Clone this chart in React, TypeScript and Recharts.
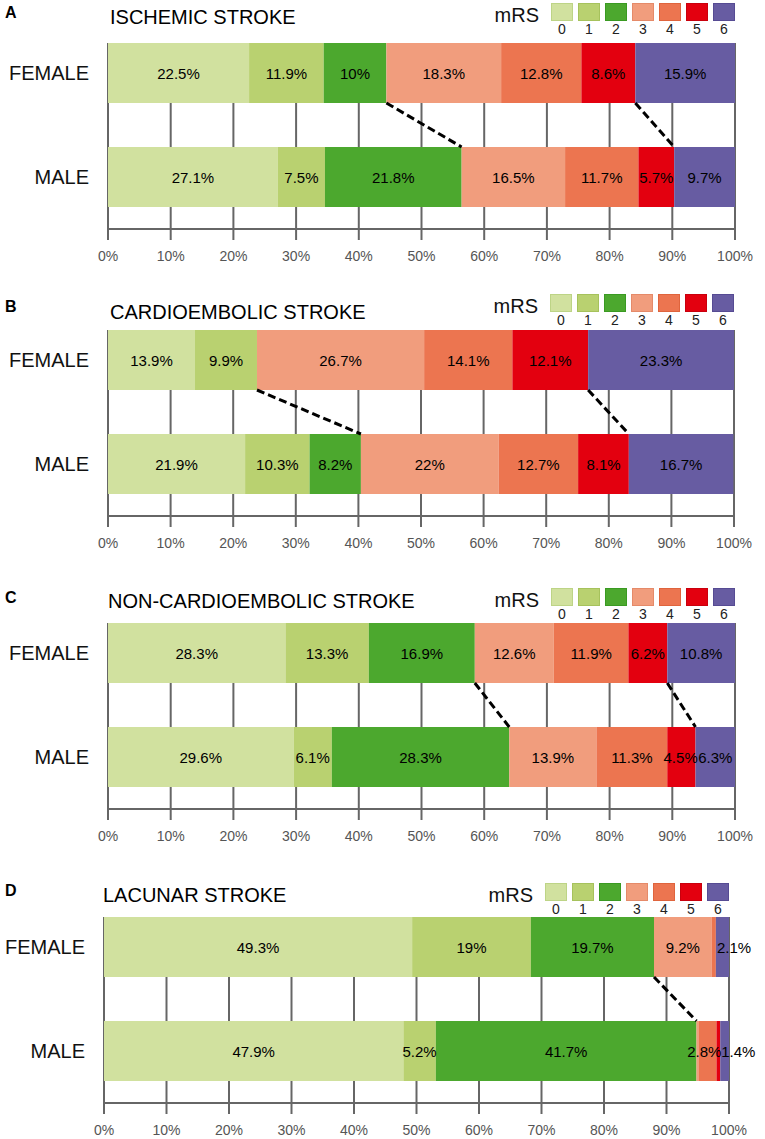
import React from 'react';
import { BarChart, Bar, XAxis, YAxis, CartesianGrid, ReferenceLine, LabelList } from 'recharts';

// ---------- data ----------
const MRS_LEVELS = ['0', '1', '2', '3', '4', '5', '6'];
const MRS_COLORS = ['#d1e19f', '#b9d170', '#4ca82e', '#f19d7d', '#ec7550', '#e3000f', '#675ca2'];
const MRS_BORDERS = ['#bdd486', '#a6c25c', '#3a9a22', '#e58a69', '#df643d', '#c9000d', '#564b93'];
const GROUPS = ['FEMALE', 'MALE'];
const X_TICKS = [0, 10, 20, 30, 40, 50, 60, 70, 80, 90, 100];

const ischemicFemale = [22.5, 11.9, 10, 18.3, 12.8, 8.6, 15.9];
const ischemicMale = [27.1, 7.5, 21.8, 16.5, 11.7, 5.7, 9.7];
const ischemicLinks = [2, 5];

const cardioFemale = [13.9, 9.9, 0, 26.7, 14.1, 12.1, 23.3];
const cardioMale = [21.9, 10.3, 8.2, 22, 12.7, 8.1, 16.7];
const cardioLinks = [2, 5];

const nonCardioFemale = [28.3, 13.3, 16.9, 12.6, 11.9, 6.2, 10.8];
const nonCardioMale = [29.6, 6.1, 28.3, 13.9, 11.3, 4.5, 6.3];
const nonCardioLinks = [2, 5];

const lacunarFemale = [49.3, 19, 19.7, 9.2, 0.7, 0, 2.1];
const lacunarMale = [47.9, 5.2, 41.7, 0.4, 2.8, 0.6, 1.4];
const lacunarLinks = [2];

const PANEL_LETTERS = ['A', 'B', 'C', 'D'];
const PANEL_TITLES = ['ISCHEMIC STROKE', 'CARDIOEMBOLIC STROKE', 'NON-CARDIOEMBOLIC STROKE', 'LACUNAR STROKE'];

// ---------- layout ----------
const FONT = '"Liberation Sans", Arial, Helvetica, sans-serif';
const BAR = 60;
const CHART_H = 268;
const MARGIN_TOP = 20;
const XAXIS_H = 40;
const GAP_TOP = 22; // distance from plot top to bar top
const LABEL_SIZE = 15;

type Layout = { T: number; x0: number; x1: number; letterCy: number; titleCy: number; titleX: number; legendTop: number };
const LAYOUTS: Layout[] = [
  { T: 42.7, x0: 108, x1: 735, letterCy: 12.8, titleCy: 16.6, titleX: 110, legendTop: 3 },
  { T: 330, x0: 108, x1: 734, letterCy: 306.5, titleCy: 311.7, titleX: 110, legendTop: 294 },
  { T: 623.3, x0: 108, x1: 735, letterCy: 597.5, titleCy: 600.8, titleX: 108, legendTop: 588 },
  { T: 917.3, x0: 104, x1: 729, letterCy: 890.7, titleCy: 895, titleX: 103, legendTop: 883 },
];

const cum = (arr: number[], idx: number) => arr.slice(0, idx + 1).reduce((a, b) => a + b, 0);

const gridLine = (p: any) => (
  <line
    key={p.key ?? `g-${p.index}`}
    x1={p.x1}
    x2={p.x2}
    y1={p.y1 + GAP_TOP}
    y2={p.y2}
    stroke="#666"
    strokeWidth={2}
  />
);

const dashShape = (p: any) => (
  <line
    x1={p.x1}
    y1={p.y1 + BAR / 2}
    x2={p.x2}
    y2={p.y2 - BAR / 2}
    stroke="#000"
    strokeWidth={3}
    strokeDasharray="8 4"
  />
);

const makeLabel = (levelIndex: number) => (p: any) => {
  const vb = p.viewBox ?? p;
  const x = Number(vb.x ?? p.x);
  const y = Number(vb.y ?? p.y);
  const w = Number(vb.width ?? p.width);
  const h = Number(vb.height ?? p.height);
  const v = Number(p.value);
  if (!(v >= 1) || !isFinite(x)) return null;
  const text = `${v}%`;
  const textW = text.length * LABEL_SIZE * 0.52;
  let tx = x + w / 2;
  let anchor: 'middle' | 'start' = 'middle';
  if (w < textW) {
    if (levelIndex === MRS_LEVELS.length - 1) {
      tx = x + 1;
      anchor = 'start';
    } else {
      tx = x + w / 2 - (textW - w) / 4;
    }
  }
  return (
    <text
      x={tx}
      y={y + h / 2}
      textAnchor={anchor}
      dominantBaseline="central"
      fill="#000"
      fontSize={LABEL_SIZE}
      fontFamily={FONT}
    >
      {text}
    </text>
  );
};

function Legend({ L }: { L: Layout }) {
  const pitch = 27;
  const sw = 22;
  const sh = 18;
  const left0 = L.x1 - sw - 6 * pitch;
  return (
    <>
      <div
        style={{
          position: 'absolute',
          right: 765 - (left0 - 12),
          top: L.legendTop + sh / 2 + 2.5 - 10,
          fontSize: 20,
          lineHeight: '20px',
          fontFamily: FONT,
          color: '#111',
          whiteSpace: 'nowrap',
        }}
      >
        mRS
      </div>
      {MRS_LEVELS.map((lvl, i) => (
        <React.Fragment key={lvl}>
          <div
            style={{
              position: 'absolute',
              left: left0 + i * pitch,
              top: L.legendTop,
              width: sw,
              height: sh,
              boxSizing: 'border-box',
              background: MRS_COLORS[i],
              border: `1px solid ${MRS_BORDERS[i]}`,
            }}
          />
          <div
            style={{
              position: 'absolute',
              left: left0 + i * pitch - 4,
              width: sw + 8,
              textAlign: 'center',
              top: L.legendTop + sh,
              fontSize: 14,
              lineHeight: '16px',
              fontFamily: FONT,
              color: '#222',
            }}
          >
            {lvl}
          </div>
        </React.Fragment>
      ))}
    </>
  );
}

function Panel({ idx, female, male, links }: { idx: number; female: number[]; male: number[]; links: number[] }) {
  const L = LAYOUTS[idx];
  const top = L.T - (MARGIN_TOP + GAP_TOP);
  const rows = GROUPS.map((g, gi) => {
    const src = gi === 0 ? female : male;
    const r: any = { group: g };
    MRS_LEVELS.forEach((lvl, i) => {
      r['m' + lvl] = src[i];
    });
    return r;
  });
  return (
    <>
      <div
        style={{
          position: 'absolute',
          left: 5,
          top: L.letterCy - 9,
          fontSize: 16,
          lineHeight: '18px',
          fontWeight: 'bold',
          fontFamily: FONT,
          color: '#000',
        }}
      >
        {PANEL_LETTERS[idx]}
      </div>
      <div
        style={{
          position: 'absolute',
          left: L.titleX,
          top: L.titleCy - 10,
          fontSize: 20,
          lineHeight: '20px',
          fontFamily: FONT,
          color: '#000',
          whiteSpace: 'nowrap',
        }}
      >
        {PANEL_TITLES[idx]}
      </div>
      <Legend L={L} />
      <div style={{ position: 'absolute', left: 0, top }}>
        <BarChart
          width={765}
          height={CHART_H}
          data={rows}
          layout="vertical"
          margin={{ top: MARGIN_TOP, right: 765 - L.x1, bottom: 0, left: 0 }}
          style={{ fontFamily: FONT }}
        >
          <CartesianGrid horizontal={false} vertical={gridLine} />
          <XAxis
            type="number"
            domain={[0, 100]}
            allowDataOverflow
            ticks={X_TICKS}
            interval={0}
            tickFormatter={(v: number) => `${v}%`}
            height={XAXIS_H}
            tickSize={11}
            tickMargin={11}
            axisLine={{ stroke: '#666', strokeWidth: 2 }}
            tickLine={{ stroke: '#666', strokeWidth: 2 }}
            tick={{ fill: '#555', fontSize: 14, fontFamily: FONT }}
          />
          <YAxis
            type="category"
            dataKey="group"
            width={L.x0}
            axisLine={false}
            tickLine={false}
            tickSize={0}
            tickMargin={19}
            tick={{ fill: '#111', fontSize: 20, fontFamily: FONT }}
          />
          {MRS_LEVELS.map((lvl, i) => (
            <Bar
              key={lvl}
              dataKey={'m' + lvl}
              stackId="s"
              fill={MRS_COLORS[i]}
              barSize={BAR}
              isAnimationActive={false}
            >
              <LabelList dataKey={'m' + lvl} position="center" content={makeLabel(i)} />
            </Bar>
          ))}
          {links.map((li) => (
            <ReferenceLine
              key={li}
              segment={[
                { x: cum(female, li), y: 'FEMALE' },
                { x: cum(male, li), y: 'MALE' },
              ]}
              shape={dashShape}
              ifOverflow="visible"
            />
          ))}
        </BarChart>
      </div>
    </>
  );
}

export default function App() {
  return (
    <div style={{ position: 'absolute', left: 0, top: 0, width: 765, height: 1139, background: '#fff', overflow: 'hidden' }}>
      <Panel idx={0} female={ischemicFemale} male={ischemicMale} links={ischemicLinks} />
      <Panel idx={1} female={cardioFemale} male={cardioMale} links={cardioLinks} />
      <Panel idx={2} female={nonCardioFemale} male={nonCardioMale} links={nonCardioLinks} />
      <Panel idx={3} female={lacunarFemale} male={lacunarMale} links={lacunarLinks} />
    </div>
  );
}
